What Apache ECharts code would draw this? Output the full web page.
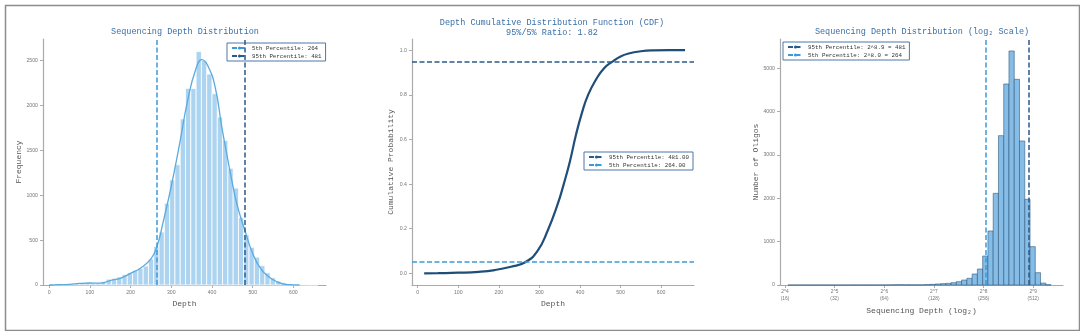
<!DOCTYPE html>
<html>
<head>
<meta charset="utf-8">
<script src="https://cdn.jsdelivr.net/npm/echarts@6/dist/echarts.min.js"></script>
<style>
  html, body { margin: 0; padding: 0; background: #fff; }
  #chart { width: 1080px; height: 331px; }
</style>
</head>
<body>
<div id="chart"></div>
<script>
// panel 1: linear histogram (bins of 13 starting at 10)
const depthBinStart = 10
const depthBinWidth = 13
const depthCounts = [
  1, 2, 5, 10, 15, 22, 25, 18, 20, 40,
  65, 75, 90, 115, 140, 160, 185, 210, 290, 430,
  590, 910, 1170, 1340, 1850, 2190, 2190, 2600, 2500, 2350,
  2130, 1870, 1610, 1300, 1080, 750, 560, 420, 310, 215,
  135, 80, 45, 25, 12, 6, 4, 2, 1, 1
]
const kdeDepth = [0, 25, 50, 75, 100, 125, 150, 175, 200, 225, 250, 265, 280, 300, 320, 340, 360, 375, 390, 408, 424, 440, 457, 470, 480, 500, 520, 540, 560, 580, 600, 615]
const kdeFreq = [0, 3, 8, 18, 22, 20, 50, 75, 130, 190, 290, 430, 700, 1100, 1560, 2050, 2400, 2510, 2440, 2200, 1760, 1370, 980, 760, 620, 350, 180, 90, 35, 8, 2, 0]

// panel 2: CDF
const cdfDepth = [16, 50, 100, 150, 190, 230, 265, 295, 320, 345, 360, 375, 390, 405, 420, 440, 460, 481, 500, 520, 550, 580, 620, 659]
const cdfProb = [0, 0.001, 0.003, 0.007, 0.015, 0.03, 0.05, 0.1, 0.19, 0.31, 0.4, 0.5, 0.62, 0.72, 0.8, 0.87, 0.92, 0.95, 0.972, 0.985, 0.995, 0.999, 1.0, 1.0]

// panel 3: log2 histogram
const logBinStart = 4.06
const logBinWidth = 0.106
const logCounts = [
  0, 0, 0, 0, 0, 0, 0, 0, 0, 0,
  0, 0, 1, 1, 1, 1, 1, 1, 1, 2,
  5, 6, 4, 3, 3, 4, 8, 15, 23, 31,
  38, 54, 77, 115, 154, 254, 369, 669, 1246, 2115,
  3446, 4638, 5400, 4746, 3323, 1977, 885, 284, 45, 5
]

const p5 = 264
const p95 = 481

const depthTicks = [0, 100, 200, 300, 400, 500, 600]
const freqTicks = [0, 500, 1000, 1500, 2000, 2500]
const probTicks = [0, 0.2, 0.4, 0.6, 0.8, 1.0]
const oligoTicks = [0, 1000, 2000, 3000, 4000, 5000]
const log2Ticks = [4, 5, 6, 7, 8, 9]
const log2TickLabels = ["2^4\n(16)", "2^5\n(32)", "2^6\n(64)", "2^7\n(128)", "2^8\n(256)", "2^9\n(512)"]

const FONT = "Liberation Mono, DejaVu Sans Mono, monospace"
const LIGHT = "#3a9ad9"
const DARK = "#2b5b8c"
const TITLE_COLOR = "#3a6fa6"
const DASH = [5, 2.5]

const chart = echarts.init(document.getElementById("chart"))

const histItem = (fill, stroke, lw) => (params, api) => {
  const a = api.coord([api.value(0), api.value(2)])
  const b = api.coord([api.value(1), 0])
  return {
    type: "rect",
    shape: { x: a[0], y: a[1], width: b[0] - a[0], height: b[1] - a[1] },
    style: { fill: fill, stroke: stroke, lineWidth: lw }
  }
}

const binData = (start, width, counts) => counts.map((c, i) => [start + i * width, start + (i + 1) * width, c])

const axisBase = (ticks, name, gap, extra) => Object.assign({
  type: "value",
  name: name,
  nameLocation: "middle",
  nameGap: gap,
  nameTextStyle: { fontFamily: FONT, fontSize: 8, color: "#555" },
  axisLine: { show: true, onZero: false, lineStyle: { color: "#aaa", width: 1.2 } },
  axisTick: { show: true, customValues: ticks, length: 3, lineStyle: { color: "#999", width: 0.8 } },
  axisLabel: { customValues: ticks, fontSize: 5.2, color: "#777", margin: 5, fontFamily: "Liberation Sans", formatter: (v) => String(v) },
  splitLine: { show: false }
}, extra)

const pctLine = (name, color, axisIdx, markData) => ({
  name: name,
  type: "line",
  xAxisIndex: axisIdx,
  yAxisIndex: axisIdx,
  data: [],
  symbol: "none",
  lineStyle: { color: color, type: DASH, width: 1.5 },
  itemStyle: { color: color },
  markLine: {
    silent: true,
    symbol: "none",
    label: { show: false },
    lineStyle: { color: color, type: DASH, width: 1.5 },
    data: [markData]
  },
  z: 5
})

const legendBase = (names, left, top) => ({
  data: names,
  orient: "vertical",
  left: left,
  top: top,
  itemWidth: 15,
  itemHeight: 4,
  itemGap: 2,
  padding: [2, 4, 2, 4],
  borderColor: "#4a78a8",
  borderWidth: 1,
  backgroundColor: "#fff",
  textStyle: { fontFamily: FONT, fontSize: 5.8, color: "#333" },
  selectedMode: false
})

const option = {
  backgroundColor: "#fff",
  animation: false,
  graphic: [{
    type: "rect",
    left: 3, top: 3,
    shape: { width: 1074, height: 325 },
    style: { fill: "none", stroke: "#8c8c8c", lineWidth: 1.5 }
  }],
  title: [
    { text: "Sequencing Depth Distribution", left: 185, top: 27, textAlign: "center", padding: 0,
      textStyle: { fontFamily: FONT, fontSize: 8.5, fontWeight: "normal", color: TITLE_COLOR } },
    { text: "Depth Cumulative Distribution Function (CDF)\n95%/5% Ratio: 1.82", left: 552, top: 18, textAlign: "center", padding: 0,
      textStyle: { fontFamily: FONT, fontSize: 8.5, lineHeight: 9.6, fontWeight: "normal", color: TITLE_COLOR } },
    { text: "Sequencing Depth Distribution (log\u2082 Scale)", left: 922, top: 27, textAlign: "center", padding: 0,
      textStyle: { fontFamily: FONT, fontSize: 8.5, fontWeight: "normal", color: TITLE_COLOR } }
  ],
  legend: [
    legendBase(["5th Percentile: 264", "95th Percentile: 481"], 227, 43),
    legendBase(["95th Percentile: 481.00", "5th Percentile: 264.00"], 584, 152),
    legendBase(["95th Percentile: 2^8.9 = 481", "5th Percentile: 2^8.0 = 264"], 783, 42)
  ],
  grid: [
    { left: 43, top: 39, width: 283, height: 246 },
    { left: 412, top: 39, width: 282, height: 246 },
    { left: 780, top: 39, width: 283, height: 246 }
  ],
  xAxis: [
    axisBase(depthTicks, "Depth", 11, { gridIndex: 0, min: -15, max: 680 }),
    axisBase(depthTicks, "Depth", 11, { gridIndex: 1, min: -14, max: 681 }),
    axisBase(log2Ticks, "Sequencing Depth (log\u2082)", 19, {
      gridIndex: 2, min: 3.9, max: 9.6,
      axisLabel: {
        customValues: log2Ticks, fontSize: 4.8, lineHeight: 7, color: "#777", margin: 3, fontFamily: "Liberation Sans",
        formatter: (v) => log2TickLabels[log2Ticks.indexOf(Math.round(v))] || ""
      }
    })
  ],
  yAxis: [
    axisBase(freqTicks, "Frequency", 19, { gridIndex: 0, min: 0, max: 2740 }),
    axisBase(probTicks, "Cumulative Probability", 17, {
      gridIndex: 1, min: -0.052, max: 1.05,
      axisLabel: { customValues: probTicks, fontSize: 5.2, color: "#777", margin: 5, fontFamily: "Liberation Sans", formatter: (v) => v.toFixed(1) }
    }),
    axisBase(oligoTicks, "Number of Oligos", 20, { gridIndex: 2, min: 0, max: 5676 })
  ],
  series: [
    {
      type: "custom",
      xAxisIndex: 0, yAxisIndex: 0,
      renderItem: histItem("#acd3ef", "#ffffff", 0.8),
      encode: { x: [0, 1], y: 2 },
      data: binData(depthBinStart, depthBinWidth, depthCounts),
      silent: true,
      z: 1
    },
    {
      type: "line",
      xAxisIndex: 0, yAxisIndex: 0,
      data: kdeDepth.map((d, i) => [d, kdeFreq[i]]),
      smooth: true,
      symbol: "none",
      lineStyle: { color: "#5aaae0", width: 1.3 },
      z: 3
    },
    pctLine("5th Percentile: 264", LIGHT, 0, { xAxis: p5 }),
    pctLine("95th Percentile: 481", DARK, 0, { xAxis: p95 }),
    {
      type: "line",
      xAxisIndex: 1, yAxisIndex: 1,
      data: cdfDepth.map((d, i) => [d, cdfProb[i]]),
      smooth: true,
      symbol: "none",
      lineStyle: { color: "#1f4e79", width: 2.2 },
      z: 4
    },
    pctLine("95th Percentile: 481.00", DARK, 1, { yAxis: 0.95 }),
    pctLine("5th Percentile: 264.00", LIGHT, 1, { yAxis: 0.05 }),
    {
      type: "custom",
      xAxisIndex: 2, yAxisIndex: 2,
      renderItem: histItem("#85bde6", "#33597d", 0.6),
      encode: { x: [0, 1], y: 2 },
      data: binData(logBinStart, logBinWidth, logCounts),
      silent: true,
      z: 1
    },
    pctLine("95th Percentile: 2^8.9 = 481", DARK, 2, { xAxis: Math.log2(p95) }),
    pctLine("5th Percentile: 2^8.0 = 264", LIGHT, 2, { xAxis: Math.log2(p5) })
  ]
}

chart.setOption(option)
</script>
</body>
</html>
